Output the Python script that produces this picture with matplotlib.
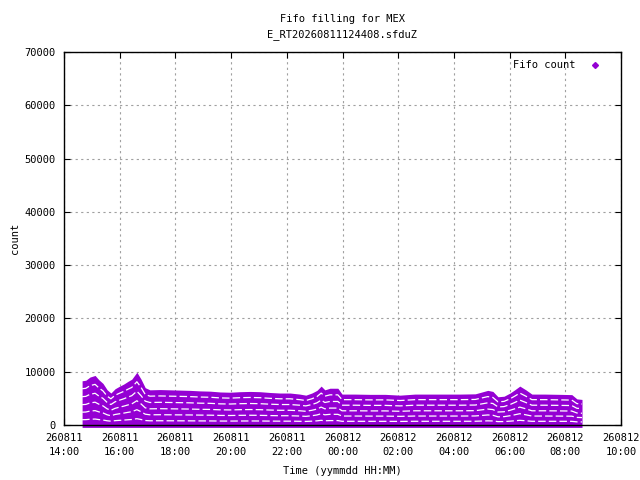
import datetime as dt
import matplotlib
matplotlib.use("Agg")
import matplotlib.pyplot as plt
import matplotlib.dates as mdates
from matplotlib.lines import Line2D

# envelope of the fifo count (top of the point cloud)
sample_times = [
    "260811 14:39", "260811 14:47", "260811 14:56", "260811 15:07", "260811 15:15",
    "260811 15:24", "260811 15:33", "260811 15:41", "260811 15:50", "260811 15:58",
    "260811 16:09", "260811 16:18", "260811 16:26", "260811 16:37", "260811 16:46",
    "260811 16:55", "260811 17:05", "260811 17:27", "260811 17:48", "260811 18:10",
    "260811 18:31", "260811 18:53", "260811 19:15", "260811 19:36", "260811 19:58",
    "260811 20:19", "260811 20:41", "260811 21:02", "260811 21:24", "260811 21:45",
    "260811 22:07", "260811 22:28", "260811 22:41", "260811 22:54", "260811 23:05",
    "260811 23:14", "260811 23:22", "260811 23:33", "260811 23:50", "260811 23:59",
    "260812 00:27", "260812 00:59", "260812 01:32", "260812 02:04", "260812 02:36",
    "260812 03:08", "260812 03:41", "260812 04:13", "260812 04:46", "260812 05:13",
    "260812 05:24", "260812 05:35", "260812 05:48", "260812 06:01", "260812 06:11",
    "260812 06:22", "260812 06:35", "260812 06:48", "260812 07:16", "260812 07:49",
    "260812 08:14", "260812 08:25", "260812 08:36",
]
top_count = [
    8300, 8400, 9000, 9300, 8500,
    7800, 6600, 6000, 6800, 7200,
    7700, 8200, 8600, 9900, 8600,
    7000, 6600, 6650, 6600, 6550,
    6500, 6400, 6350, 6200, 6150,
    6250, 6300, 6250, 6100, 6000,
    6000, 5800, 5600, 6000, 6500,
    7300, 6600, 6900, 6900, 5800,
    5800, 5750, 5750, 5600, 5800,
    5800, 5800, 5800, 5850, 6500,
    6300, 5300, 5400, 6000, 6600,
    7300, 6600, 5800, 5800, 5750,
    5700, 4900, 4800,
]
# white gaps between the fill steps, as a fraction of the top
gap_levels = [0.12, 0.29, 0.46, 0.64, 0.82]

title = "Fifo filling for MEX\nE_RT20260811124408.sfduZ"
purple = "#9400d3"
mono = "DejaVu Sans Mono"

times = [dt.datetime.strptime(t, "%y%m%d %H:%M") for t in sample_times]

fig = plt.figure(figsize=(6.4, 4.8), dpi=100)
ax = fig.add_axes([64 / 640, 1 - 425 / 480, 557 / 640, 373 / 480])

ax.fill_between(times, -450, top_count, color=purple, lw=0,
                clip_on=False, zorder=3)
for f in gap_levels:
    ax.plot(times, [f * p for p in top_count], color="white", lw=0.9,
            linestyle=(0, (6, 2.5)), zorder=3.5)

ax.set_xlim(dt.datetime(2026, 8, 11, 14, 0), dt.datetime(2026, 8, 12, 10, 0))
ax.set_ylim(0, 70000)
ax.xaxis.set_major_locator(mdates.HourLocator(interval=2))
ax.xaxis.set_major_formatter(mdates.DateFormatter("%y%m%d\n%H:%M"))
ax.set_yticks(range(0, 70001, 10000))

ax.grid(True, color="#a0a0a0", linestyle=(0, (2, 3)), lw=0.8, zorder=0)
ax.tick_params(direction="in", length=4, width=0.8, top=True, right=True,
               labelsize=7.5, pad=6)
for lab in ax.get_xticklabels() + ax.get_yticklabels():
    lab.set_family(mono)
    lab.set_linespacing(1.45)
for s in ax.spines.values():
    s.set_linewidth(1.0)
    s.set_zorder(4)

ax.set_title(title, family=mono, fontsize=7.5, pad=11, linespacing=1.6)
ax.set_xlabel("Time (yymmdd HH:MM)", family=mono, fontsize=7.5, labelpad=6.5)
ax.set_ylabel("count", family=mono, fontsize=7.5, labelpad=3)

handle = Line2D([], [], color=purple, marker="D", markersize=3, lw=0)
leg = ax.legend([handle], ["Fifo count"], loc="upper right", frameon=False,
                prop={"family": mono, "size": 7.5}, markerfirst=False,
                handlelength=1.5, handletextpad=1.1, borderaxespad=0.3,
                bbox_to_anchor=(0.98, 0.997))

fig.savefig("out.png", dpi=100)
